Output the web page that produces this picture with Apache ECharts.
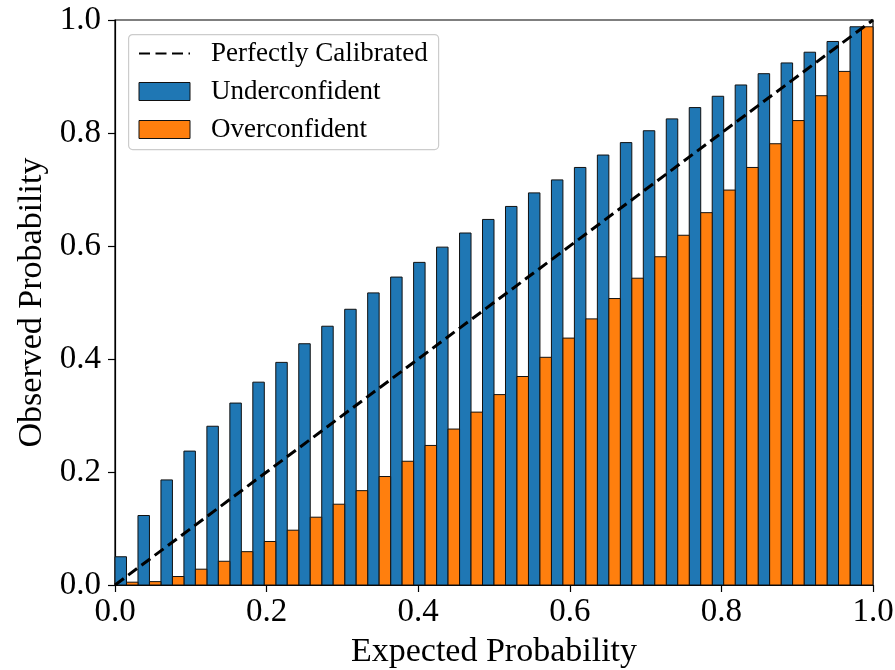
<!DOCTYPE html>
<html>
<head>
<meta charset="utf-8">
<script src="https://cdn.jsdelivr.net/npm/echarts@6/dist/echarts.min.js"></script>
<style>
  html, body { margin: 0; padding: 0; background: #fff; }
  #chart { width: 895px; height: 670px; }
</style>
</head>
<body>
<div id="chart"></div>
<script>
// Reliability diagram: 33 equal-width bins on [0, 1], two bars per bin.
const NBINS = 33;
const underconfident = [
  0.050, 0.123, 0.186, 0.237, 0.281, 0.322, 0.359, 0.394, 0.427, 0.458, 0.488,
  0.517, 0.545, 0.571, 0.598, 0.623, 0.647, 0.670, 0.694, 0.717, 0.739, 0.761,
  0.783, 0.804, 0.825, 0.845, 0.865, 0.885, 0.905, 0.924, 0.943, 0.962, 0.988
];
const overconfident = [
  0.005, 0.006, 0.015, 0.028, 0.042, 0.059, 0.077, 0.097, 0.120, 0.143, 0.167,
  0.192, 0.219, 0.247, 0.276, 0.306, 0.337, 0.369, 0.403, 0.437, 0.471, 0.507,
  0.543, 0.581, 0.619, 0.659, 0.699, 0.739, 0.781, 0.822, 0.866, 0.909, 0.988
];
const diagonalX = [0, 1];
const diagonalY = [0, 1];
const xTicks = ['0.0', '0.2', '0.4', '0.6', '0.8', '1.0'];
const yTicks = ['0.0', '0.2', '0.4', '0.6', '0.8', '1.0'];

const BLUE = '#1f77b4';
const ORANGE = '#ff7f0e';
const FONT = '"Liberation Serif", "Times New Roman", serif';

// Each bin is split in two halves: left half for the first series, right half for the second.
function binHalves(values, half) {
  const w = 1 / NBINS;
  return values.map((v, i) => {
    const start = i * w + half * w / 2;
    return [start, start + w / 2, v];
  });
}

function rectRenderer(color) {
  return function (params, api) {
    const a = api.coord([api.value(0), api.value(2)]);
    const b = api.coord([api.value(1), 0]);
    return {
      type: 'rect',
      shape: { x: a[0], y: a[1], width: b[0] - a[0], height: b[1] - a[1] },
      style: { fill: color, stroke: '#111', lineWidth: 1 }
    };
  };
}

const chart = echarts.init(document.getElementById('chart'), null, { renderer: 'canvas' });

const tickFmt = (list) => (v) => {
  const idx = Math.round(v / 0.2);
  return list[idx] !== undefined ? list[idx] : '';
};

chart.setOption({
  animation: false,
  backgroundColor: '#ffffff',
  textStyle: { fontFamily: FONT },
  grid: {
    left: 115, right: 22, top: 20, bottom: 85,
    outerBoundsMode: 'none', containLabel: false,
    show: true, borderColor: '#000', borderWidth: 1.2, backgroundColor: 'transparent'
  },
  xAxis: {
    type: 'value', min: 0, max: 1, interval: 0.2,
    name: 'Expected Probability', nameLocation: 'middle', nameGap: 50,
    nameTextStyle: { fontFamily: FONT, fontSize: 34, color: '#000' },
    axisLine: { show: true, lineStyle: { color: '#000', width: 1.2 } },
    axisTick: { show: true, inside: false, length: 7, lineStyle: { color: '#000', width: 1.2 } },
    axisLabel: { fontFamily: FONT, fontSize: 33, color: '#000', margin: 11, formatter: tickFmt(xTicks) },
    splitLine: { show: false }
  },
  yAxis: {
    type: 'value', min: 0, max: 1, interval: 0.2,
    name: 'Observed Probability', nameLocation: 'middle', nameGap: 60, nameRotate: 90,
    nameTextStyle: { fontFamily: FONT, fontSize: 34, color: '#000' },
    axisLine: { show: true, lineStyle: { color: '#000', width: 1.2 } },
    axisTick: { show: true, inside: false, length: 7, lineStyle: { color: '#000', width: 1.2 } },
    axisLabel: { fontFamily: FONT, fontSize: 33, color: '#000', margin: 14, formatter: tickFmt(yTicks) },
    splitLine: { show: false }
  },
  graphic: [{
    type: 'rect', left: 128, top: 34, z: 90,
    shape: { width: 310, height: 115, r: 4 },
    style: { fill: 'rgba(255,255,255,0.85)', stroke: '#cccccc', lineWidth: 1.2 }
  }],
  legend: {
    orient: 'vertical', left: 138, top: 40, padding: 0, z: 100,
    itemWidth: 51, itemHeight: 18, itemGap: 11,
    textStyle: { fontFamily: FONT, fontSize: 27, color: '#000', lineHeight: 26, padding: [0, 0, 0, 16] },
    data: [
      { name: 'Perfectly Calibrated', itemStyle: { color: 'rgba(0,0,0,0)', borderWidth: 0, opacity: 0 } },
      { name: 'Underconfident', icon: 'rect', itemStyle: { color: BLUE, borderColor: '#111', borderWidth: 1 } },
      { name: 'Overconfident', icon: 'rect', itemStyle: { color: ORANGE, borderColor: '#111', borderWidth: 1 } }
    ]
  },
  series: [
    {
      name: 'Underconfident', type: 'custom',
      itemStyle: { color: BLUE },
      encode: { x: [0, 1], y: 2 },
      renderItem: rectRenderer(BLUE),
      data: binHalves(underconfident, 0),
      z: 2
    },
    {
      name: 'Overconfident', type: 'custom',
      itemStyle: { color: ORANGE },
      encode: { x: [0, 1], y: 2 },
      renderItem: rectRenderer(ORANGE),
      data: binHalves(overconfident, 1),
      z: 2
    },
    {
      name: 'Perfectly Calibrated', type: 'line',
      data: diagonalX.map((x, i) => [x, diagonalY[i]]),
      symbol: 'none',
      lineStyle: { color: '#000', width: 3, type: [11, 5.5] },
      itemStyle: { color: '#000' },
      z: 5
    }
  ]
});
</script>
</body>
</html>
